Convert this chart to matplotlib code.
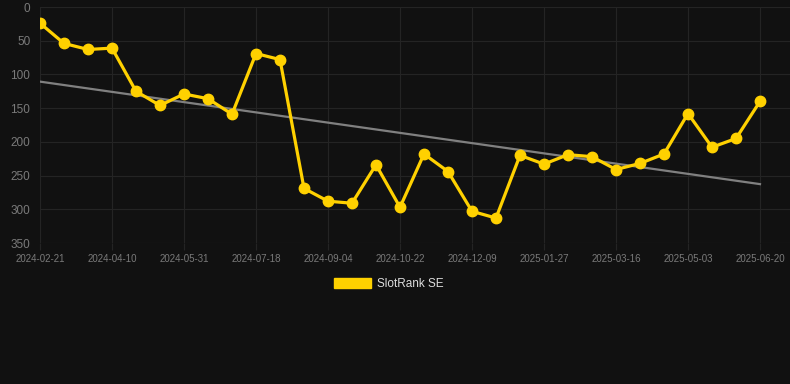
import numpy as np
import matplotlib.pyplot as plt
from matplotlib.patches import Patch

plt.rcParams['font.family'] = ['Liberation Sans', 'DejaVu Sans']

# rank per observation (lower = better), 31 points
ranks = [24, 54, 63, 61, 125, 146, 129, 136, 159, 69, 78,
         269, 288, 291, 234, 297, 218, 244, 303, 313,
         220, 233, 219, 222, 241, 232, 218, 158, 208, 195, 140]
tick_labels = ['2024-02-21', '2024-04-10', '2024-05-31', '2024-07-18',
               '2024-09-04', '2024-10-22', '2024-12-09', '2025-01-27',
               '2025-03-16', '2025-05-03', '2025-06-20']
series_name = 'SlotRank SE'

bg = '#111111'
gold = '#FFD100'

x = np.arange(len(ranks))
slope, icpt = np.polyfit(x, ranks, 1)

fig = plt.figure(figsize=(7.9, 3.84), dpi=100, facecolor=bg)
ax = fig.add_axes([40/790, 1-243/384, 750/790, 236/384])
ax.set_facecolor(bg)

ax.plot(x, slope*x + icpt, color='#808080', lw=1.6, zorder=2)
ax.plot(x, ranks, color=gold, lw=2.3, marker='o', ms=7.5, zorder=3)

ax.set_xlim(0, 31.25)
ax.set_ylim(350, 0)
ax.set_yticks(range(0, 351, 50))
ax.set_xticks(x[::3])
ax.set_xticklabels(tick_labels)
ax.grid(True, color='#242424', lw=0.8)
ax.set_axisbelow(True)
for s in ax.spines.values():
    s.set_visible(False)
ax.tick_params(axis='y', length=0, pad=7, labelsize=8.5, labelcolor='#7a7a7a')
ax.tick_params(axis='x', length=5, color='#242424', pad=3, labelsize=7, labelcolor='#7a7a7a')

fig.legend(handles=[Patch(color=gold, label=series_name)], loc='center',
           bbox_to_anchor=(0.492, 1-284/384), frameon=False, fontsize=8.5,
           labelcolor='#dddddd', handlelength=3.2, handleheight=1.0, handletextpad=0.5)

fig.savefig('out.png', dpi=100, facecolor=bg)
